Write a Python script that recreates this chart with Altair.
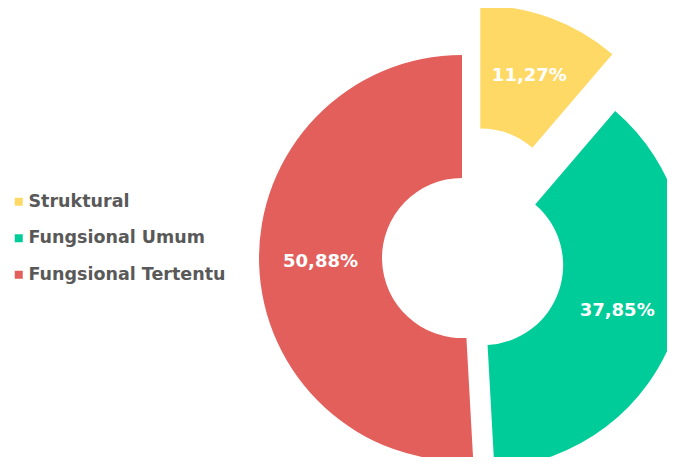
import math
import altair as alt
import pandas as pd

categories = ["Struktural", "Fungsional Umum", "Fungsional Tertentu"]
values = [11.27, 37.85, 50.88]
labels = ["11,27%", "37,85%", "50,88%"]
colors = ["#FFD966", "#00CC99", "#E35F5B"]
explode = [0.26, 0.11, 0.0]  # slice explosion, fraction of outer radius

OUTER, INNER = 203, 80
CX, CY = 454, 250
LABEL_R = (OUTER + INNER) / 2 / OUTER

df = pd.DataFrame({"cat": categories, "value": values, "label": labels, "explode": explode})
df["end"] = df["value"].cumsum()
df["start"] = df["end"] - df["value"]
mid = (df["start"] + df["end"]) / 2 / 100 * 2 * math.pi
df["ex"] = df["explode"] * mid.apply(math.sin)
df["ey"] = -df["explode"] * mid.apply(math.cos)
df["lx"] = df["ex"] + LABEL_R * mid.apply(math.sin)
df["ly"] = df["ey"] - LABEL_R * mid.apply(math.cos)

xs = alt.Scale(domain=[-1, 1], range=[CX - OUTER, CX + OUTER])
ys = alt.Scale(domain=[-1, 1], range=[CY - OUTER, CY + OUTER])

base = alt.Chart(df)

arcs = base.mark_arc(innerRadius=INNER, outerRadius=OUTER).encode(
    x=alt.X("ex:Q", scale=xs, axis=None),
    y=alt.Y("ey:Q", scale=ys, axis=None),
    theta=alt.Theta("start:Q", scale=alt.Scale(domain=[0, 100], range=[0, 2 * math.pi]), stack=None),
    theta2="end:Q",
    color=alt.Color(
        "cat:N",
        sort=categories,
        scale=alt.Scale(domain=categories, range=colors),
        legend=alt.Legend(
            title=None,
            orient="none",
            legendX=2,
            legendY=185,
            symbolType="square",
            symbolSize=64,
            symbolStrokeWidth=0,
            labelFont="DejaVu Sans",
            labelFontSize=17.5,
            labelFontWeight="bold",
            labelColor="#595959",
            labelOffset=1,
            labelLimit=0,
            rowPadding=17.5,
        ),
    ),
)

text = base.mark_text(
    font="DejaVu Sans", fontSize=18, fontWeight="bold", color="white"
).encode(
    x=alt.X("lx:Q", scale=xs, axis=None),
    y=alt.Y("ly:Q", scale=ys, axis=None),
    text="label:N",
)

chart = (
    alt.layer(arcs, text)
    .properties(width=659, height=449, autosize="none", padding=0)
    .configure_view(stroke=None)
)

chart.save("out.html", embed_options={"renderer": "svg", "actions": False})
